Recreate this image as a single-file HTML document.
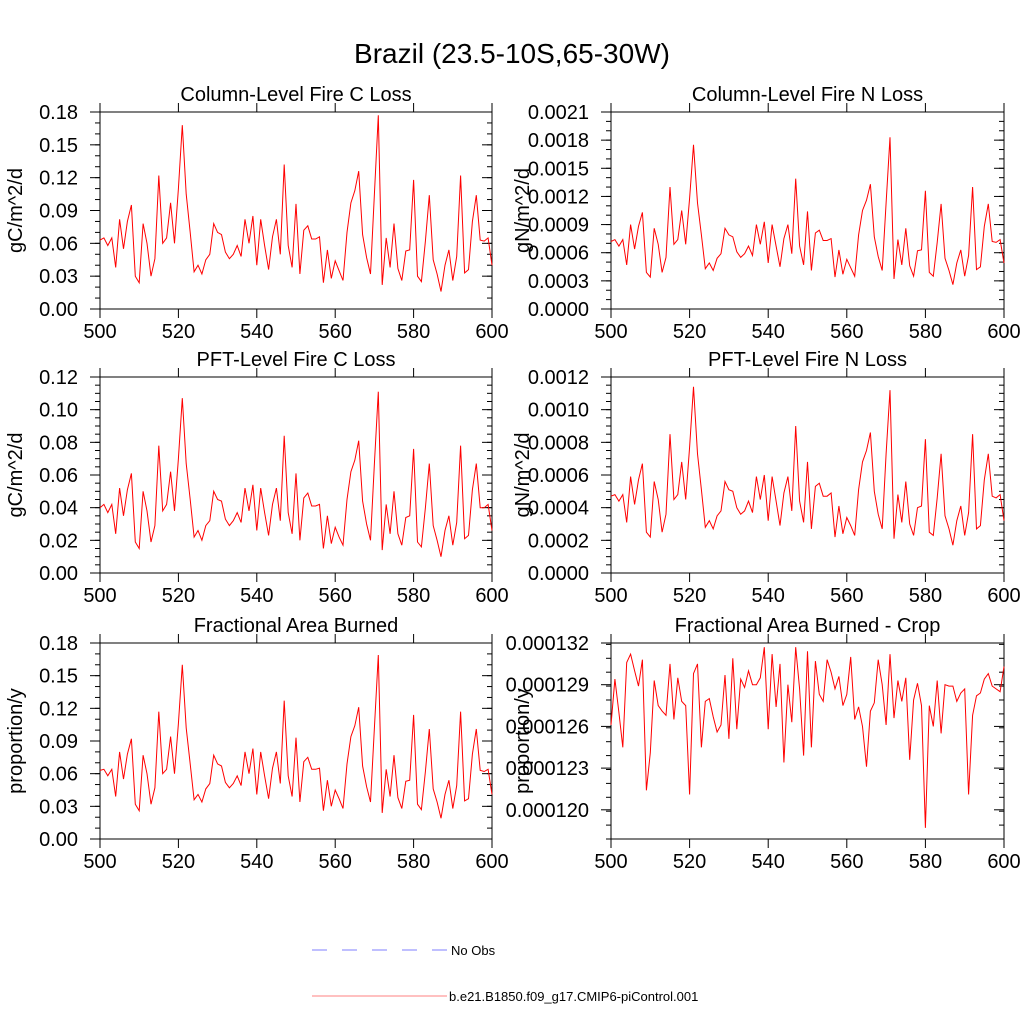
<!DOCTYPE html>
<html><head><meta charset="utf-8"><style>
html,body{margin:0;padding:0;background:#fff;}
svg{display:block;font-family:"Liberation Sans",Arial,sans-serif;}
</style></head><body>
<svg id="fig" width="1024" height="1024" viewBox="0 0 1024 1024">
<text x="512" y="63" font-size="28" text-anchor="middle">Brazil (23.5-10S,65-30W)</text>
<g>
<line x1="312" y1="950" x2="447" y2="950" stroke="#7f7fff" stroke-width="1" stroke-dasharray="15,15"/>
<text x="451" y="955" font-size="13">No Obs</text>
<line x1="312" y1="996" x2="447" y2="996" stroke="#ff8080" stroke-width="1"/>
<text x="449" y="1001" font-size="13">b.e21.B1850.f09_g17.CMIP6-piControl.001</text>
</g>
</svg>
<script>
const years = [];
for (let y = 500; y <= 600; y++) years.push(y);
const xTicks = [500, 520, 540, 560, 580, 600];

const colC = [0.063,0.065,0.058,0.065,0.038,0.082,0.055,0.080,0.095,0.030,
0.024,0.078,0.060,0.030,0.046,0.122,0.060,0.065,0.097,0.060,
0.110,0.168,0.105,0.070,0.034,0.040,0.032,0.045,0.050,0.078,
0.070,0.068,0.052,0.046,0.050,0.058,0.048,0.082,0.060,0.085,
0.040,0.082,0.058,0.036,0.066,0.082,0.050,0.132,0.058,0.038,
0.096,0.032,0.072,0.076,0.064,0.064,0.066,0.024,0.054,0.028,
0.044,0.035,0.026,0.070,0.097,0.108,0.126,0.068,0.047,0.032,
0.105,0.177,0.022,0.065,0.038,0.078,0.037,0.026,0.053,0.054,
0.118,0.030,0.025,0.062,0.104,0.045,0.032,0.016,0.040,0.054,
0.026,0.048,0.122,0.033,0.036,0.080,0.104,0.063,0.062,0.065,0.040];

const colN = [0.00072,0.00074,0.00067,0.00074,0.00047,0.0009,0.00064,0.00088,0.00103,0.00039,
0.00034,0.00086,0.00069,0.00039,0.00055,0.0013,0.00069,0.00074,0.00105,0.00069,
0.00118,0.00175,0.00113,0.00079,0.00043,0.00049,0.00041,0.00054,0.00059,0.00086,
0.00079,0.00077,0.00061,0.00055,0.00059,0.00067,0.00057,0.0009,0.00069,0.00093,
0.00049,0.0009,0.00067,0.00045,0.00075,0.0009,0.00059,0.00139,0.00067,0.00047,
0.00104,0.00041,0.00081,0.00084,0.00073,0.00073,0.00075,0.00034,0.00063,0.00037,
0.00053,0.00044,0.00035,0.00079,0.00105,0.00116,0.00133,0.00077,0.00056,0.00041,
0.00113,0.00183,0.00032,0.00074,0.00047,0.00086,0.00046,0.00035,0.00062,0.00063,
0.00126,0.00039,0.00035,0.00071,0.00112,0.00054,0.00041,0.00026,0.00049,0.00063,
0.00035,0.00057,0.0013,0.00042,0.00045,0.00088,0.00112,0.00072,0.00071,0.00074,0.00049];

const pftC = [0.040,0.042,0.037,0.042,0.024,0.052,0.035,0.051,0.061,0.019,
0.015,0.050,0.038,0.019,0.029,0.078,0.038,0.042,0.062,0.038,
0.070,0.107,0.067,0.045,0.022,0.026,0.020,0.029,0.032,0.050,
0.045,0.044,0.033,0.029,0.032,0.037,0.031,0.052,0.038,0.054,
0.026,0.052,0.037,0.023,0.042,0.052,0.032,0.084,0.037,0.024,
0.061,0.020,0.046,0.049,0.041,0.041,0.042,0.015,0.035,0.018,
0.028,0.022,0.017,0.045,0.062,0.069,0.081,0.044,0.030,0.020,
0.067,0.111,0.014,0.042,0.024,0.050,0.024,0.017,0.034,0.035,
0.076,0.019,0.016,0.040,0.067,0.029,0.020,0.010,0.026,0.035,
0.017,0.031,0.078,0.021,0.023,0.051,0.067,0.040,0.040,0.042,0.026];

const pftN = [0.00047,0.00048,0.00044,0.00048,0.00031,0.00059,0.00042,0.00057,0.00067,0.00025,
0.00022,0.00056,0.00045,0.00025,0.00036,0.00085,0.00045,0.00048,0.00068,0.00045,
0.00077,0.00114,0.00073,0.00051,0.00028,0.00032,0.00027,0.00035,0.00038,0.00056,
0.00051,0.0005,0.0004,0.00036,0.00038,0.00044,0.00037,0.00059,0.00045,0.0006,
0.00032,0.00059,0.00044,0.00029,0.00049,0.00059,0.00038,0.0009,0.00044,0.00031,
0.00068,0.00027,0.00053,0.00055,0.00047,0.00047,0.00049,0.00022,0.00041,0.00024,
0.00034,0.00029,0.00023,0.00051,0.00068,0.00075,0.00086,0.0005,0.00036,0.00027,
0.00073,0.00112,0.00021,0.00048,0.00031,0.00056,0.0003,0.00023,0.0004,0.00041,
0.00082,0.00025,0.00023,0.00046,0.00073,0.00035,0.00027,0.00017,0.00032,0.00041,
0.00023,0.00037,0.00085,0.00027,0.00029,0.00057,0.00073,0.00047,0.00046,0.00048,0.00032];

const fab = [0.063,0.064,0.058,0.064,0.039,0.080,0.055,0.078,0.092,0.032,
0.026,0.077,0.060,0.032,0.047,0.117,0.060,0.064,0.094,0.060,
0.106,0.160,0.102,0.069,0.036,0.041,0.034,0.046,0.051,0.077,
0.069,0.067,0.052,0.047,0.051,0.058,0.049,0.080,0.060,0.083,
0.041,0.080,0.058,0.037,0.065,0.080,0.051,0.127,0.058,0.039,
0.093,0.034,0.071,0.075,0.064,0.064,0.065,0.026,0.054,0.030,
0.045,0.037,0.028,0.069,0.094,0.104,0.121,0.067,0.048,0.034,
0.102,0.169,0.024,0.064,0.039,0.077,0.038,0.028,0.053,0.054,
0.114,0.032,0.027,0.062,0.101,0.046,0.034,0.019,0.041,0.054,
0.028,0.049,0.117,0.035,0.037,0.078,0.101,0.063,0.062,0.064,0.041];

const fabCrop = [126.1,129.4,127.0,124.5,130.6,131.2,130.0,128.9,130.8,121.4,
124.1,129.3,127.5,127.1,126.8,130.5,126.5,129.5,127.8,127.5,
121.1,129.8,130.5,124.5,127.8,128.0,126.7,125.6,126.1,129.7,
125.1,130.9,125.8,129.4,128.8,130.0,129.0,129.0,129.5,131.7,
125.8,131.2,127.4,130.5,123.4,129.0,126.3,131.7,128.7,123.9,
131.4,124.5,130.7,128.3,127.8,130.8,129.9,128.7,129.6,127.5,
128.3,131.0,126.5,127.4,126.0,123.1,127.1,127.7,130.8,129.0,
126.1,131.2,126.6,129.3,127.8,129.5,123.6,127.9,129.1,127.5,
118.7,127.5,126.0,129.3,125.5,129.0,128.9,128.9,127.8,128.4,
128.7,121.1,126.8,128.2,128.4,129.4,129.8,128.9,128.7,128.5,130.3];

const ticksC = ["0.00","0.03","0.06","0.09","0.12","0.15","0.18"];
const ticksN = ["0.0000","0.0003","0.0006","0.0009","0.0012","0.0015","0.0018","0.0021"];
const ticksPC = ["0.00","0.02","0.04","0.06","0.08","0.10","0.12"];
const ticksPN = ["0.0000","0.0002","0.0004","0.0006","0.0008","0.0010","0.0012"];
const ticksCrop = ["0.000120","0.000123","0.000126","0.000129","0.000132"];

const NS = "http://www.w3.org/2000/svg";
const svg = document.getElementById('fig');
function mk(tag, attrs, parent) {
  const e = document.createElementNS(NS, tag);
  for (const k in attrs) e.setAttribute(k, attrs[k]);
  parent.appendChild(e);
  return e;
}

function panel(cfg) {
  const g = mk('g', {}, svg);
  
  
  const L = cfg.x0, R = cfg.x1, T = cfg.y0, B = cfg.y1;
  const xs = v => L + (v - 500) / 100 * (R - L);
  const ys = v => B - (v - cfg.ymin) / (cfg.ymax - cfg.ymin) * (B - T);
  const frame = mk('rect', {x: L, y: T, width: R - L, height: B - T, fill: 'none', stroke: '#000', 'stroke-width': 1}, g);
  
  
  const t = mk('text', {x: (L + R) / 2, y: T - 11, 'font-size': 20, 'text-anchor': 'middle'}, g);
  t.textContent = cfg.title;
  
  
  xTicks.forEach(v => {
    const x = xs(v);
    mk('line', {x1: x, y1: B, x2: x, y2: B + 9, stroke: '#000'}, g);
    mk('line', {x1: x, y1: T, x2: x, y2: T - 9, stroke: '#000'}, g);
    const lb = mk('text', {x: x, y: B + 29, 'font-size': 20, 'text-anchor': 'middle'}, g);
    lb.textContent = v;
    
    
  });
  const nmin = Math.round((cfg.ymax - cfg.ymin) / cfg.minor);
  for (let i = 0; i <= nmin; i++) {
    const y = ys(cfg.ymin + i * cfg.minor);
    mk('line', {x1: L, y1: y, x2: L - 5, y2: y, stroke: '#000'}, g);
    mk('line', {x1: R, y1: y, x2: R - 5, y2: y, stroke: '#000'}, g);
  }
  cfg.ticks.forEach(s => {
    const v = parseFloat(s);
    const y = ys(v);
    mk('line', {x1: L, y1: y, x2: L - 10, y2: y, stroke: '#000'}, g);
    mk('line', {x1: R, y1: y, x2: R - 10, y2: y, stroke: '#000'}, g);
    const lb = mk('text', {x: L - 22, y: y + 7, 'font-size': 20, 'text-anchor': 'end'}, g);
    lb.textContent = s;
    
    
  });
  const yt = mk('text', {x: 0, y: 0, 'font-size': 20, 'text-anchor': 'middle', transform: `translate(${cfg.ytx},${(T + B) / 2}) rotate(-90)`}, g);
  yt.textContent = cfg.ytitle;
  
  
  const pts = cfg.data.map((v, i) => xs(years[i]).toFixed(1) + ',' + ys(v).toFixed(1)).join(' ');
  const pl = mk('polyline', {points: pts, fill: 'none', stroke: '#ff0000', 'stroke-width': 1}, g);
  
  
}

const cropScaled = fabCrop.map(v => v * 1e-6);
panel({name: 'panel-column-fire-c-loss', title: 'Column-Level Fire C Loss', x0: 100, x1: 492, y0: 112, y1: 309, ymin: 0, ymax: 0.18, minor: 0.01, ticks: ticksC, ytitle: 'gC/m^2/d', ytx: 22, data: colC});
panel({name: 'panel-column-fire-n-loss', title: 'Column-Level Fire N Loss', x0: 611, x1: 1004, y0: 112, y1: 309, ymin: 0, ymax: 0.0021, minor: 0.0001, ticks: ticksN, ytitle: 'gN/m^2/d', ytx: 529, data: colN});
panel({name: 'panel-pft-fire-c-loss', title: 'PFT-Level Fire C Loss', x0: 100, x1: 492, y0: 377, y1: 573, ymin: 0, ymax: 0.12, minor: 0.005, ticks: ticksPC, ytitle: 'gC/m^2/d', ytx: 22, data: pftC});
panel({name: 'panel-pft-fire-n-loss', title: 'PFT-Level Fire N Loss', x0: 611, x1: 1004, y0: 377, y1: 573, ymin: 0, ymax: 0.0012, minor: 0.00005, ticks: ticksPN, ytitle: 'gN/m^2/d', ytx: 529, data: pftN});
panel({name: 'panel-fractional-area-burned', title: 'Fractional Area Burned', x0: 100, x1: 492, y0: 643, y1: 839, ymin: 0, ymax: 0.18, minor: 0.01, ticks: ticksC, ytitle: 'proportion/y', ytx: 22, data: fab});
panel({name: 'panel-fractional-area-burned-crop', title: 'Fractional Area Burned - Crop', x0: 611, x1: 1004, y0: 643, y1: 839, ymin: 0.0001179, ymax: 0.000132, minor: 0.000001, ticks: ticksCrop, ytitle: 'proportion/y', ytx: 529, data: cropScaled});
</script>
</body></html>
